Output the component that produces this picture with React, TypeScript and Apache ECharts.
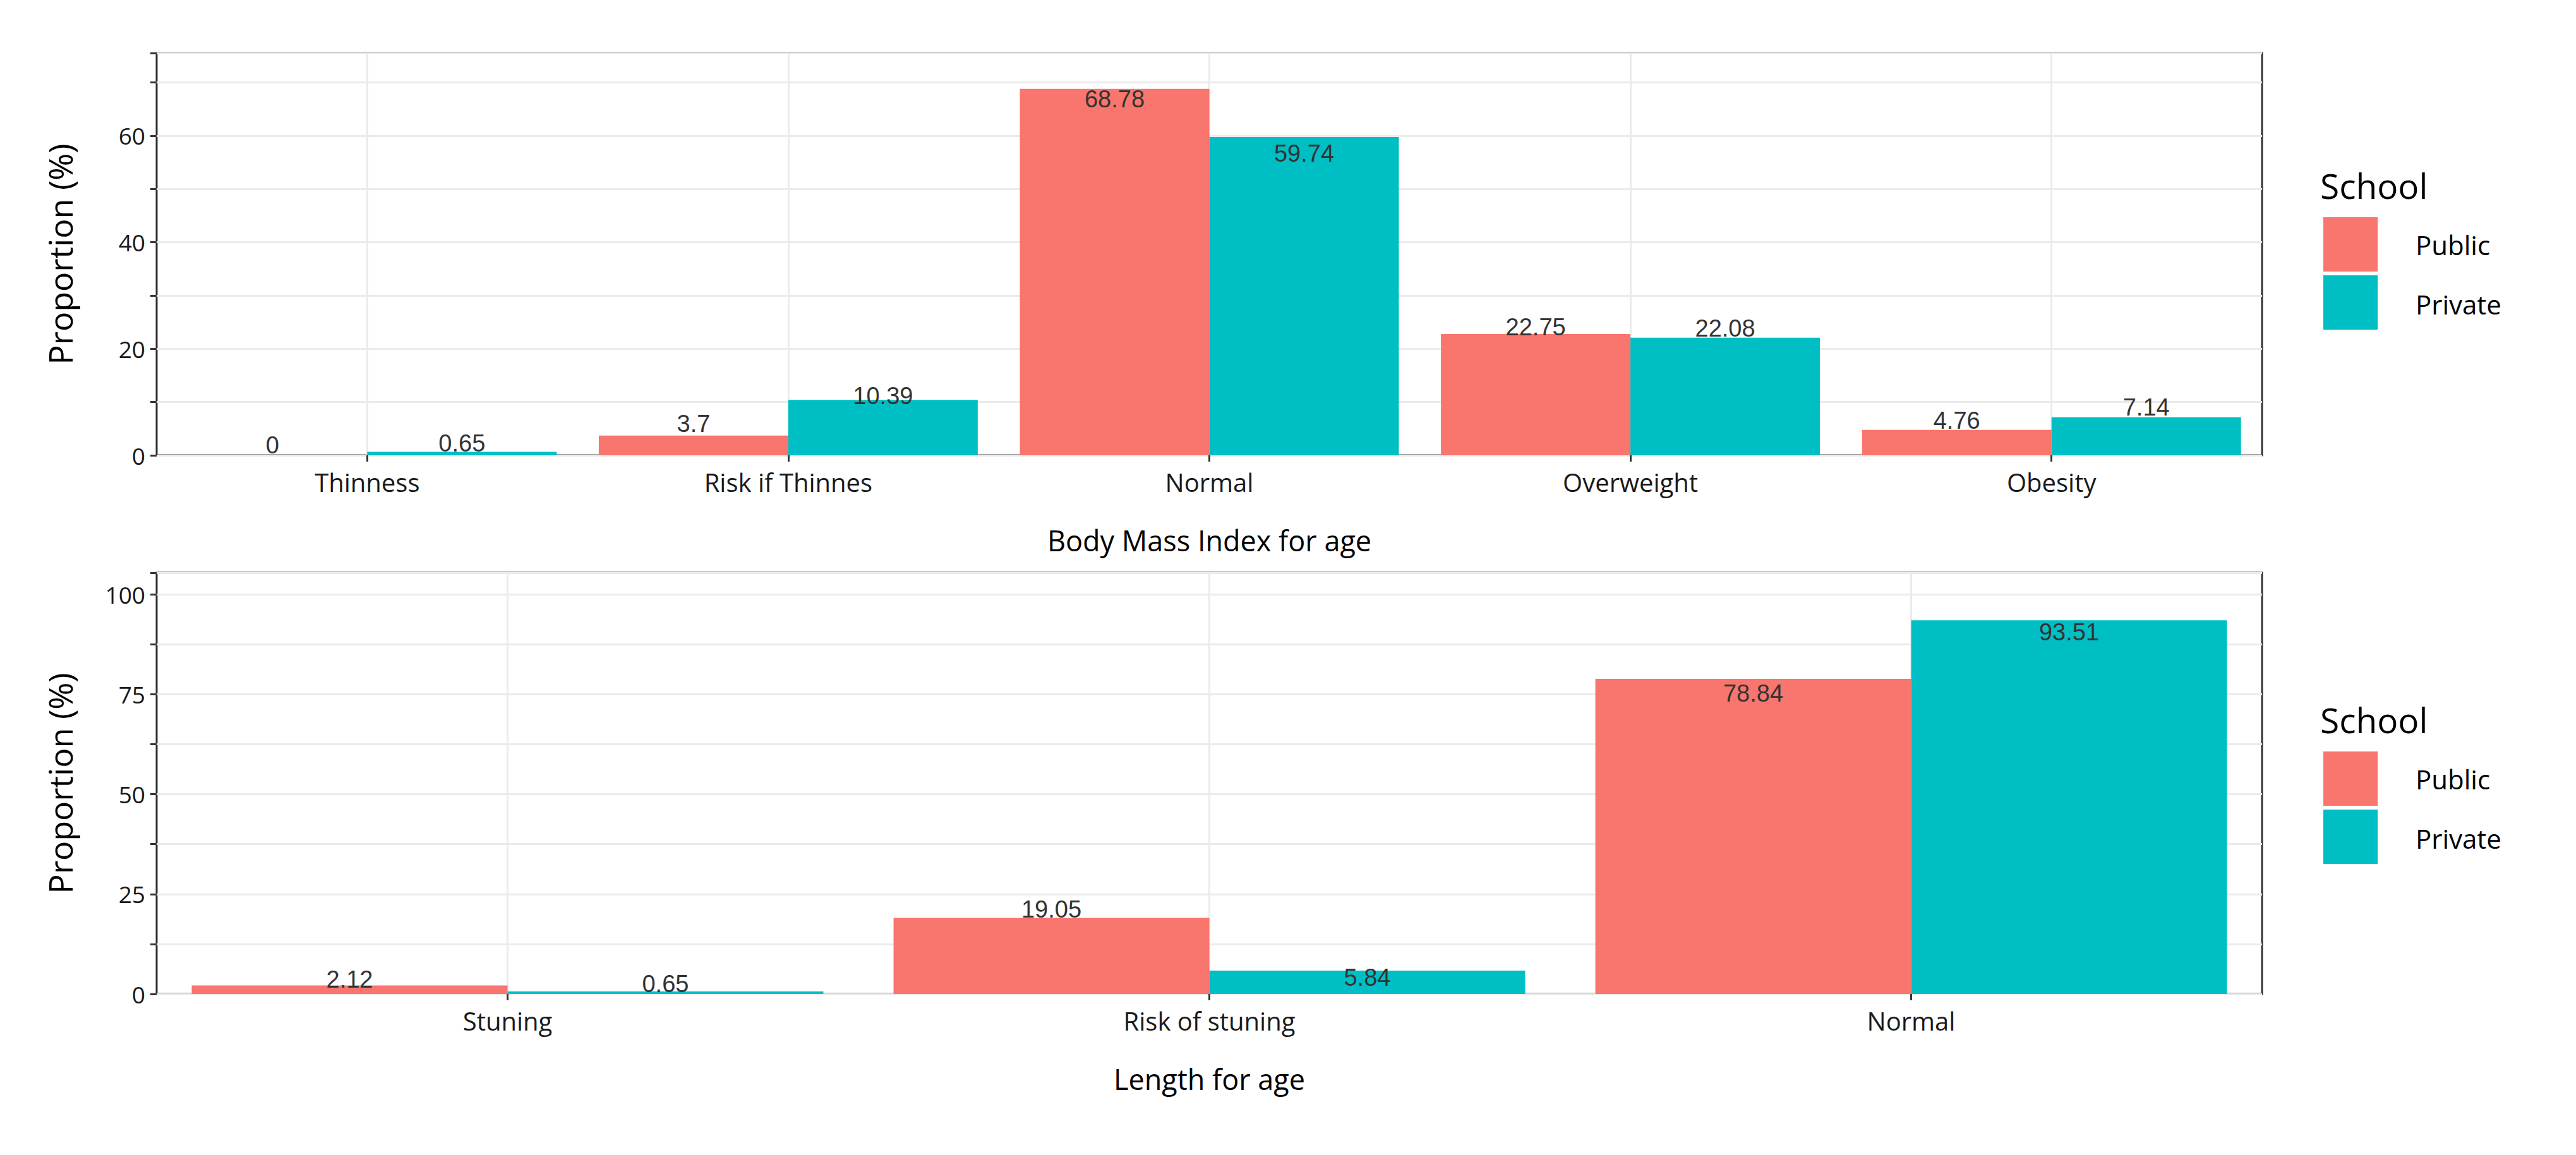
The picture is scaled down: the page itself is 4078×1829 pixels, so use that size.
import React, { useEffect, useRef } from "react";
import * as echarts from "echarts";

const bmiCategories = ["Thinness", "Risk if Thinnes", "Normal", "Overweight", "Obesity"];
const bmiPublic = [0, 3.7, 68.78, 22.75, 4.76];
const bmiPrivate = [0.65, 10.39, 59.74, 22.08, 7.14];
// heights (in %) where the value labels sit
const bmiPublicLabelAt = [1.9, 5.9, 66.8, 24.1, 6.5];
const bmiPrivateLabelAt = [2.2, 11.1, 56.6, 23.8, 9.0];

const lfaCategories = ["Stuning", "Risk of stuning", "Normal"];
const lfaPublic = [2.12, 19.05, 78.84];
const lfaPrivate = [0.65, 5.84, 93.51];
const lfaPublicLabelAt = [3.7, 21.1, 75.2];
const lfaPrivateLabelAt = [2.5, 4.1, 90.5];

const PUBLIC = "#F8766D";
const PRIVATE = "#00BFC4";
const FONT = "Open Sans";
const LABEL_H = 38;

const App: React.FC = () => {
  const chartRef = useRef<HTMLDivElement>(null);

  useEffect(() => {
    if (!chartRef.current) return;
    const chart = echarts.init(chartRef.current, undefined, { renderer: "svg" });

    const grids = [
      { left: 248, right: 4078 - 3581, top: 84, height: 637, max: 75.5, interval: 10, step: 20 },
      { left: 248, right: 4078 - 3581, top: 907, height: 667, max: 105.4, interval: 12.5, step: 25 },
    ];
    const panels = [
      { cats: bmiCategories, pub: bmiPublic, pri: bmiPrivate, pubAt: bmiPublicLabelAt, priAt: bmiPrivateLabelAt, title: "Body Mass Index for age" },
      { cats: lfaCategories, pub: lfaPublic, pri: lfaPrivate, pubAt: lfaPublicLabelAt, priAt: lfaPrivateLabelAt, title: "Length for age" },
    ];

    const xAxis: any[] = [];
    const yAxis: any[] = [];
    const series: any[] = [];

    panels.forEach((p, gi) => {
      const g = grids[gi];
      const ppu = g.height / g.max;
      xAxis.push({
        type: "category",
        gridIndex: gi,
        data: p.cats,
        name: p.title,
        nameLocation: "middle",
        nameGap: 112,
        nameTextStyle: { fontFamily: FONT, fontSize: 45, color: "#000" },
        axisLine: { show: false },
        axisTick: { show: true, alignWithLabel: true, length: 10, lineStyle: { color: "#333", width: 3 } },
        axisLabel: { fontFamily: FONT, fontSize: 40, color: "#1a1a1a", margin: 22 },
        splitLine: { show: false },
      });
      xAxis.push({
        type: "value",
        gridIndex: gi,
        min: 0,
        max: p.cats.length * 2,
        interval: 1,
        axisLine: { show: false },
        axisTick: { show: false },
        axisLabel: { show: false },
        splitLine: { show: true, lineStyle: { color: ["rgba(0,0,0,0)", "#ebebeb"], width: 3 } },
      });
      yAxis.push({
        type: "value",
        gridIndex: gi,
        min: 0,
        max: g.max,
        interval: g.interval,
        name: "Proportion (%)",
        nameLocation: "middle",
        nameGap: 128,
        nameTextStyle: { fontFamily: FONT, fontSize: 52, color: "#000" },
        axisLine: { show: false },
        axisTick: { show: true, length: 10, lineStyle: { color: "#333", width: 3 } },
        axisLabel: {
          fontFamily: FONT,
          fontSize: 37,
          color: "#1a1a1a",
          margin: 18,
          formatter: (v: number) => (Math.abs(v / g.step - Math.round(v / g.step)) < 1e-6 ? String(v) : ""),
        },
        splitLine: { show: true, lineStyle: { color: "#ebebeb", width: 3 } },
      });

      const mk = (name: string, vals: number[], at: number[], color: string) => ({
        type: "bar",
        name,
        xAxisIndex: gi * 2,
        yAxisIndex: gi,
        barGap: "0%",
        barCategoryGap: "10%",
        itemStyle: { color },
        data: vals.map((v, i) => ({
          value: v,
          label: {
            show: true,
            position: "top",
            distance: 0,
            offset: [0, (v - at[i]) * ppu + LABEL_H / 2],
            formatter: String(v),
            fontFamily: "Liberation Sans",
            fontSize: LABEL_H,
            color: "#333",
          },
        })),
        z: 3,
      });
      series.push(mk("Public", p.pub, p.pubAt, PUBLIC));
      series.push(mk("Private", p.pri, p.priAt, PRIVATE));
    });

    const legend = (top: number) => [
      { type: "text", left: 3673, top: top, style: { text: "School", font: `55px "${FONT}"`, fill: "#000" } },
      { type: "rect", shape: { x: 3678, y: top + 78, width: 86, height: 86 }, style: { fill: PUBLIC } },
      { type: "rect", shape: { x: 3678, y: top + 170, width: 86, height: 86 }, style: { fill: PRIVATE } },
      { type: "text", left: 3824, top: top + 100, style: { text: "Public", font: `42px "${FONT}"`, fill: "#000" } },
      { type: "text", left: 3824, top: top + 194, style: { text: "Private", font: `42px "${FONT}"`, fill: "#000" } },
    ];

    chart.setOption({
      animation: false,
      backgroundColor: "#fff",
      grid: grids.map((g) => ({
        left: g.left,
        right: g.right,
        top: g.top,
        height: g.height,
        show: true,
        borderColor: "#333",
        borderWidth: 3,
      })),
      xAxis,
      yAxis,
      series,
      graphic: [...legend(266), ...legend(1112)],
    });

    return () => chart.dispose();
  }, []);

  return (
    <div
      ref={chartRef}
      style={{ position: "fixed", left: 0, top: 0, width: "4078px", height: "1829px" }}
    />
  );
};

export default App;
